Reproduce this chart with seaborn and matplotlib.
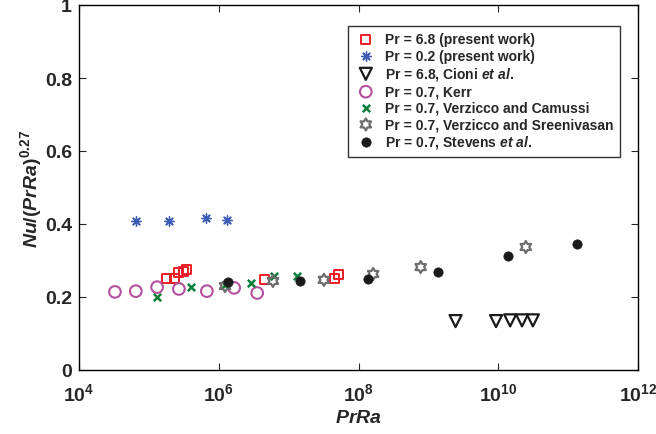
import numpy as np
import pandas as pd
import matplotlib
matplotlib.use("Agg")
import matplotlib.pyplot as plt
from matplotlib.path import Path
import seaborn as sns

# --------------------------
# Data: x = PrRa, y = Nu/(PrRa)^0.27
# --------------------------
pr68_x = [1.76e5, 2.29e5, 2.69e5, 3.09e5, 3.5e5, 4.47e6, 4.47e7, 5.25e7]
pr68_y = [0.252, 0.252, 0.267, 0.270, 0.275, 0.247, 0.252, 0.263]

pr02_x = [6.5e4, 1.95e5, 6.6e5, 1.32e6]
pr02_y = [0.408, 0.408, 0.416, 0.411]

cioni_x = [2.45e9, 9.3e9, 1.48e10, 2.19e10, 3.13e10]
cioni_y = [0.134, 0.134, 0.136, 0.136, 0.136]

kerr_x = [3.27e4, 6.5e4, 1.31e5, 2.69e5, 6.76e5, 1.66e6, 3.55e6]
kerr_y = [0.214, 0.216, 0.227, 0.222, 0.216, 0.225, 0.211]

vc_x = [1.31e5, 3.98e5, 1.23e6, 2.88e6, 6.17e6, 1.32e7]
vc_y = [0.200, 0.227, 0.233, 0.238, 0.258, 0.258]

vs_x = [1.23e6, 5.96e6, 3.2e7, 1.62e8, 7.76e8, 2.48e10]
vs_y = [0.230, 0.244, 0.247, 0.263, 0.282, 0.337]

stev_x = [1.35e6, 1.45e7, 1.35e8, 1.38e9, 1.38e10, 1.33e11]
stev_y = [0.241, 0.244, 0.249, 0.268, 0.312, 0.345]

labels = [
    "Pr = 6.8 (present work)",
    "Pr = 0.2 (present work)",
    r"Pr = 6.8, Cioni $et\ al.$",
    "Pr = 0.7, Kerr",
    "Pr = 0.7, Verzicco and Camussi",
    "Pr = 0.7, Verzicco and Sreenivasan",
    r"Pr = 0.7, Stevens $et\ al.$",
]
xs = [pr68_x, pr02_x, cioni_x, kerr_x, vc_x, vs_x, stev_x]
ys = [pr68_y, pr02_y, cioni_y, kerr_y, vc_y, vs_y, stev_y]

df = pd.concat(
    [pd.DataFrame({"PrRa": x, "val": y, "series": lab}) for x, y, lab in zip(xs, ys, labels)],
    ignore_index=True,
)

# --------------------------
# Style
# --------------------------
sns.set_style("ticks")
plt.rcParams["font.family"] = ["Liberation Sans", "DejaVu Sans"]
plt.rcParams["font.weight"] = "bold"
plt.rcParams["mathtext.fontset"] = "custom"
plt.rcParams["mathtext.rm"] = "Liberation Sans:bold"
plt.rcParams["mathtext.bf"] = "Liberation Sans:bold"
plt.rcParams["mathtext.it"] = "Liberation Sans:italic:bold"

hexagram = Path.unit_regular_star(6, 0.577)
asterisk = (8, 2, 0)

styles = {
    labels[0]: dict(marker="s", s=42, facecolor="none", edgecolor="#ee1c24", linewidth=1.4),
    labels[1]: dict(marker=asterisk, s=45, color="#3f5cb5", linewidth=1.0),
    labels[2]: dict(marker="v", s=75, facecolor="none", edgecolor="#1a1a1a", linewidth=1.6),
    labels[3]: dict(marker="o", s=70, facecolor="none", edgecolor="#b5519f", linewidth=1.5),
    labels[4]: dict(marker="x", s=28, color="#0b7f3a", linewidth=1.8),
    labels[5]: dict(marker=hexagram, s=75, facecolor="none", edgecolor="#6e6e6e", linewidth=1.6),
    labels[6]: dict(marker="o", s=45, color="#1a1a1a", edgecolor="#1a1a1a", linewidth=0.5),
}

fig = plt.figure(figsize=(6.56, 4.35), dpi=100)
ax = fig.add_axes([79 / 656, 1 - 371 / 435, 559 / 656, 365 / 435])

for lab in labels:
    sub = df[df["series"] == lab]
    sns.scatterplot(data=sub, x="PrRa", y="val", ax=ax, label=lab, **styles[lab])

ax.set_xscale("log")
ax.set_xlim(1e4, 1e12)
ax.set_ylim(0, 1)
ax.set_xticks([1e4, 1e6, 1e8, 1e10, 1e12])
ax.set_xticklabels([r"$10^{%d}$" % e for e in [4, 6, 8, 10, 12]])
ax.xaxis.set_minor_locator(matplotlib.ticker.NullLocator())
ax.set_yticks([0, 0.2, 0.4, 0.6, 0.8, 1.0])
ax.set_yticklabels(["0", "0.2", "0.4", "0.6", "0.8", "1"])
ax.tick_params(direction="in", length=5, width=0.8, top=True, right=True,
               labelsize=14)
ax.tick_params(axis="x", pad=9)
ax.tick_params(axis="y", pad=5)
for sp in ax.spines.values():
    sp.set_linewidth(1.0)
    sp.set_color("black")

ax.set_xlabel(r"$PrRa$", fontsize=14, labelpad=3)
ax.set_ylabel(r"$Nu/(PrRa)^{0.27}$", fontsize=14, labelpad=1)

leg = ax.legend(loc="upper right", bbox_to_anchor=((620 - 79) / 559, (371 - 27) / 365),
                borderaxespad=0, frameon=True, fancybox=False, fontsize=10,
                handletextpad=0.6, labelspacing=0.17, borderpad=0.45, handlelength=1.6)
leg.get_frame().set_edgecolor("black")
leg.get_frame().set_linewidth(1.0)
for t in leg.get_texts():
    t.set_fontweight("bold")

fig.savefig("out.png", dpi=100)
